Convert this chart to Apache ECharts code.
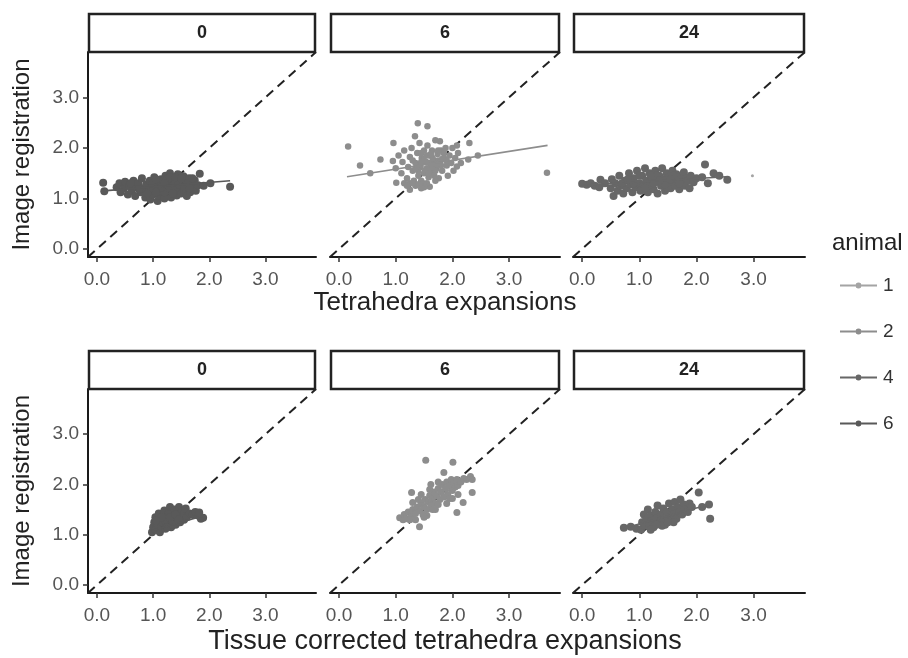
<!DOCTYPE html>
<html><head><meta charset="utf-8">
<script src="https://cdn.jsdelivr.net/npm/echarts@6/dist/echarts.min.js"></script>
<style>html,body{margin:0;padding:0;background:#fff}#c{width:908px;height:658px}</style>
</head><body><div id="c"></div>
<script>
// ---------- data ----------
const timepoints = ['0', '6', '24'];
const animals = ['1', '2', '4', '6'];
const tickValues = [0, 1, 2, 3];
const tickLabels = ['0.0', '1.0', '2.0', '3.0'];
const axisRange = [-0.16, 3.9];
const xTitles = ['Tetrahedra expansions', 'Tissue corrected tetrahedra expansions'];
const yTitle = 'Image registration';
const legendTitle = 'animal';

// top row, time 0 (animal 6)
const tetra0_a6 = [
  [0.35,1.22],[0.4,1.3],[0.42,1.12],[0.48,1.2],[0.5,1.33],[0.55,1.08],[0.58,1.25],[0.62,1.15],[0.65,1.35],[0.68,1.05],
  [0.7,1.22],[0.74,1.3],[0.78,1.12],[0.8,1.4],[0.82,1.2],[0.86,1.02],[0.88,1.28],
  [0.92,1.15],[0.94,1.35],[0.95,0.98],[0.98,1.25],[1.0,1.08],[1.02,1.42],[1.04,1.18],[1.06,1.3],[1.08,0.95],
  [1.1,1.22],[1.12,1.05],[1.14,1.38],[1.16,1.14],[1.18,1.28],[1.2,1.0],[1.22,1.45],[1.24,1.2],[1.26,1.1],[1.28,1.33],
  [1.3,1.5],[1.32,1.02],[1.34,1.24],[1.36,1.4],[1.38,1.15],[1.4,1.3],[1.42,1.06],[1.44,1.48],[1.46,1.2],[1.48,1.36],
  [1.5,1.1],[1.52,1.27],[1.54,1.44],[1.56,1.16],[1.58,1.32],[1.6,1.05],[1.62,1.24],[1.64,1.4],[1.66,1.12],[1.68,1.3],
  [1.7,1.2],[1.74,1.36],[1.76,1.15],[1.8,1.26],
  [1.0,1.3],[1.1,1.35],[1.2,1.12],[1.3,1.2],[1.4,1.2],[1.5,1.3],[1.6,1.3],[1.25,1.38],[1.35,1.1],[1.45,1.28],
  [1.15,1.22],[0.96,1.2],[1.55,1.22],[1.65,1.2],[1.05,1.12],[1.3,1.42],[1.4,1.42],[1.5,1.4],[1.2,1.3],[0.6,1.3],
  [0.75,1.18],[0.9,1.1],[1.7,1.4],[1.05,1.38],
  [0.11,1.31],[0.13,1.14],[2.37,1.23],[1.83,1.49],[1.9,1.25],[2.02,1.3]
];
// top row, time 6 (animal 2)
const tetra6_a2 = [
  [0.16,2.03],[0.37,1.65],[0.73,1.77],[0.96,2.1],[0.95,1.74],[1.39,2.49],[1.56,2.43],[1.34,2.23],[1.78,2.13],[2.08,2.05],
  [2.28,1.77],[2.08,1.63],[3.67,1.51],[1.25,1.17],[1.01,1.31],[1.6,1.23],[2.3,2.1],[2.45,1.85],[0.55,1.5],
  [1.0,1.6],[1.05,1.85],[1.1,1.5],[1.12,1.72],[1.15,1.95],[1.2,1.4],[1.22,1.62],[1.25,1.82],[1.28,2.0],[1.3,1.55],
  [1.32,1.35],[1.35,1.7],[1.38,1.9],[1.4,1.45],[1.42,2.1],[1.44,1.62],[1.46,1.8],[1.48,1.3],[1.5,1.95],[1.52,1.55],
  [1.54,1.72],[1.56,2.05],[1.58,1.42],[1.6,1.85],[1.62,1.65],[1.64,1.95],[1.66,1.5],[1.68,1.75],[1.7,2.15],[1.72,1.6],
  [1.74,1.88],[1.76,1.4],[1.78,1.7],[1.8,1.95],[1.82,1.55],[1.85,1.8],[1.88,2.0],[1.9,1.65],[1.92,1.45],[1.95,1.85],
  [1.98,1.7],[2.0,2.0],[2.02,1.55],[2.05,1.8],[2.1,1.9],[2.15,1.7],[1.45,1.35],[1.35,1.25],[1.55,1.3],[1.7,1.35],
  [1.25,1.3],[1.15,1.3],
  [1.3,1.75],[1.4,1.65],[1.45,1.9],[1.5,1.75],[1.55,1.6],[1.6,1.7],[1.65,1.8],[1.7,1.55],[1.75,1.75],[1.8,1.65],
  [1.85,1.9],[1.9,1.75],[1.5,1.5],[1.6,1.55],[1.4,1.55],[1.65,1.62],[1.55,1.85],[1.75,1.95],[1.35,1.6],[1.45,1.72],
  [1.62,1.88],[1.72,1.68],[1.82,1.78],[1.58,1.5],[1.68,1.45],[1.2,1.25],[1.3,1.3],[1.4,1.28],[1.5,1.22],[1.45,1.2]
];
// top row, time 24 (animal 4 and 1)
const tetra24_a4 = [
  [0.0,1.29],[0.08,1.27],[0.15,1.3],[0.22,1.25],[0.32,1.37],[0.3,1.22],[0.4,1.3],
  [0.5,1.2],[0.52,1.38],[0.55,1.05],[0.58,1.3],[0.62,1.15],[0.65,1.45],[0.68,1.25],[0.72,1.1],[0.75,1.35],[0.78,1.2],
  [0.82,1.5],[0.85,1.28],[0.88,1.12],[0.9,1.4],[0.94,1.22],[0.96,1.55],[1.0,1.3],[1.02,1.15],[1.05,1.45],[1.08,1.25],
  [1.1,1.6],[1.12,1.35],[1.15,1.12],[1.18,1.5],[1.2,1.28],[1.22,1.4],[1.25,1.18],[1.28,1.55],[1.3,1.33],[1.32,1.1],
  [1.35,1.45],[1.38,1.25],[1.4,1.6],[1.42,1.38],[1.45,1.15],[1.48,1.5],[1.5,1.3],[1.52,1.42],[1.55,1.2],[1.58,1.55],
  [1.6,1.35],[1.62,1.25],[1.65,1.48],[1.68,1.32],[1.7,1.18],[1.72,1.42],[1.75,1.3],[1.78,1.52],[1.8,1.25],[1.82,1.4],
  [1.85,1.35],[1.88,1.2],[1.9,1.45],[1.95,1.32],[2.0,1.4],
  [2.15,1.67],[2.3,1.5],[2.54,1.37],[2.1,1.42],[2.2,1.3],[2.4,1.45],
  [1.0,1.45],[1.3,1.45],[1.5,1.2],[1.15,1.25],[1.45,1.28],[0.9,1.3],[1.6,1.45],[1.25,1.3],[0.7,1.3],[0.8,1.38],
  [1.1,1.2],[1.35,1.35],[1.55,1.38],[1.7,1.3],[1.2,1.45]
];
const tetra24_a1 = [[2.98,1.45]];
// bottom row, time 0 (animal 6)
const tissue0_a6 = [
  [0.98,1.05],[1.0,1.15],[1.02,1.25],[1.04,1.35],[1.05,1.1],[1.08,1.2],[1.1,1.3],[1.1,1.42],[1.12,1.05],[1.14,1.15],
  [1.16,1.25],[1.18,1.38],[1.2,1.48],[1.22,1.12],[1.24,1.22],[1.26,1.32],[1.28,1.44],[1.3,1.55],[1.32,1.15],[1.34,1.27],
  [1.36,1.38],[1.38,1.5],[1.4,1.2],[1.42,1.32],[1.44,1.44],[1.46,1.55],[1.48,1.25],[1.5,1.38],[1.52,1.48],[1.55,1.3],
  [1.56,1.42],[1.58,1.52],[1.6,1.35],[1.65,1.42],[1.7,1.4],[1.75,1.45],[1.8,1.38],[1.85,1.32],[1.89,1.34],[1.82,1.44],
  [1.2,1.3],[1.3,1.35],[1.4,1.4],[1.25,1.15],[1.15,1.35],[1.35,1.2],[1.45,1.3],[1.05,1.28]
];
// bottom row, time 6 (animal 2)
const tissue6_a2 = [
  [1.07,1.34],[1.13,1.3],[1.15,1.4],[1.2,1.32],[1.22,1.45],[1.28,1.38],[1.3,1.5],[1.35,1.42],[1.38,1.55],[1.42,1.16],
  [1.42,1.48],[1.45,1.62],[1.48,1.4],[1.5,1.55],[1.52,1.7],[1.55,1.5],[1.58,1.65],[1.6,1.78],[1.62,1.58],[1.65,1.72],
  [1.68,1.85],[1.7,1.62],[1.72,1.78],[1.75,1.92],[1.78,1.7],[1.8,1.85],[1.82,2.0],[1.85,1.75],[1.85,2.24],[1.88,1.92],
  [1.9,2.05],[1.92,1.8],[1.95,1.98],[1.98,2.1],[2.0,1.88],[2.02,2.02],[2.05,1.95],[2.08,2.1],[2.1,1.98],[2.15,2.05],
  [2.2,2.12],[2.25,2.1],[2.32,2.16],[2.35,2.1],[2.35,1.84],[2.19,1.64],[2.08,1.44],[1.53,2.48],[2.01,2.44],[1.28,1.84],
  [1.3,1.64],[1.25,1.3],[1.35,1.3],[1.55,1.38],[1.65,1.5],[1.75,1.6],[1.95,1.72],
  [1.4,1.7],[1.6,1.9],[1.75,2.05],[1.5,1.35],[1.7,1.5],[1.9,1.62],[2.0,1.72],[2.1,1.8],[1.62,2.0],[1.45,1.8]
];
// bottom row, time 24 (animal 4)
const tissue24_a4 = [
  [0.73,1.14],[0.85,1.16],[0.95,1.12],[1.03,1.1],[1.05,1.25],[1.08,1.4],[1.1,1.18],[1.12,1.3],[1.15,1.5],[1.18,1.2],
  [1.2,1.38],[1.22,1.28],[1.25,1.15],[1.28,1.45],[1.3,1.32],[1.32,1.58],[1.35,1.22],[1.38,1.4],[1.4,1.3],[1.42,1.52],
  [1.45,1.2],[1.48,1.45],[1.5,1.35],[1.52,1.62],[1.55,1.28],[1.58,1.5],[1.6,1.4],[1.62,1.65],[1.65,1.32],[1.68,1.55],
  [1.7,1.45],[1.72,1.7],[1.75,1.4],[1.78,1.6],[1.8,1.5],[1.85,1.45],[1.88,1.62],[1.92,1.55],[2.04,1.84],[2.22,1.6],
  [2.24,1.32],[2.1,1.55],[1.2,1.1],[1.4,1.18],[1.6,1.25],[1.3,1.2],[1.5,1.25]
];
// fitted lines (end points)
const fitTetra0 = [[0.11,1.15],[2.37,1.35]];
const fitTetra6 = [[0.14,1.43],[3.68,2.05]];
const fitTetra24 = [[0.02,1.26],[2.52,1.43]];
const fitTissue0 = [[0.97,1.08],[1.9,1.38]];
const fitTissue6 = [[1.1,1.35],[2.35,2.15]];
const fitTissue24 = [[0.73,1.13],[2.22,1.6]];

// ---------- layout / style ----------
const animalColor = {'1':'#a4a4a4','2':'#8d8d8d','4':'#676767','6':'#595959'};
const FONT = "'Liberation Sans', Arial, Helvetica, sans-serif";
const colLeft = [88, 330, 573], colWidth = [228, 230, 232];
const rowTop = [52, 389], rowHeight = [205, 204];
const stripH = 39;

const panels = [
  {row:0, col:0, size:8, groups:[{a:'6', pts:tetra0_a6, fit:fitTetra0}]},
  {row:0, col:1, size:6.5, groups:[{a:'2', pts:tetra6_a2, fit:fitTetra6}]},
  {row:0, col:2, size:8, groups:[{a:'1', pts:tetra24_a1, fit:null, size:3},{a:'4', pts:tetra24_a4, fit:fitTetra24}]},
  {row:1, col:0, size:8, groups:[{a:'6', pts:tissue0_a6, fit:fitTissue0}]},
  {row:1, col:1, size:7, groups:[{a:'2', pts:tissue6_a2, fit:fitTissue6}]},
  {row:1, col:2, size:8, groups:[{a:'4', pts:tissue24_a4, fit:fitTissue24}]}
];

const grid = [], xAxis = [], yAxis = [], series = [], graphic = [];
panels.forEach((p, i) => {
  grid.push({left: colLeft[p.col], top: rowTop[p.row], width: colWidth[p.col], height: rowHeight[p.row], containLabel: false});
  xAxis.push({
    gridIndex: i, type: 'value', min: axisRange[0], max: axisRange[1],
    axisLine: {show: true, onZero: false, lineStyle: {color: '#1a1a1a', width: 2}},
    axisTick: {show: true, customValues: tickValues, length: 5, lineStyle: {color: '#333', width: 1.5}},
    axisLabel: {show: true, customValues: tickValues, formatter: v => tickLabels[tickValues.indexOf(v)] ?? '', margin: 13,
                fontFamily: FONT, fontSize: 19, color: '#555'},
    splitLine: {show: false},
    name: p.col === 1 ? xTitles[p.row] : '', nameLocation: 'middle', nameGap: p.row === 0 ? 33 : 35,
    nameTextStyle: {fontFamily: FONT, fontSize: p.row === 0 ? 26 : 27, color: '#222'}
  });
  const first = p.col === 0;
  yAxis.push({
    gridIndex: i, type: 'value', min: axisRange[0], max: axisRange[1],
    axisLine: {show: first, onZero: false, lineStyle: {color: '#1a1a1a', width: 2}},
    axisTick: {show: first, customValues: tickValues, length: 5, lineStyle: {color: '#333', width: 1.5}},
    axisLabel: {show: first, customValues: tickValues, formatter: v => tickLabels[tickValues.indexOf(v)] ?? '', margin: 9,
                fontFamily: FONT, fontSize: 19, color: '#555'},
    splitLine: {show: false},
    name: first ? yTitle : '', nameLocation: 'middle', nameGap: 54, nameRotate: 90,
    nameTextStyle: {fontFamily: FONT, fontSize: 24, color: '#222'}
  });
  // identity line
  series.push({
    type: 'line', xAxisIndex: i, yAxisIndex: i, silent: true, symbol: 'none', z: 1,
    data: [[axisRange[0], axisRange[0]], [axisRange[1], axisRange[1]]],
    lineStyle: {color: '#222', width: 2, type: [9, 6]}
  });
  p.groups.forEach(g => {
    series.push({
      name: g.a, type: 'scatter', xAxisIndex: i, yAxisIndex: i, z: 2, silent: true,
      symbolSize: g.size || p.size, data: g.pts, itemStyle: {color: animalColor[g.a], opacity: 1}
    });
    if (g.fit) series.push({
      name: g.a, type: 'line', xAxisIndex: i, yAxisIndex: i, z: 3, silent: true, symbol: 'none',
      data: g.fit, lineStyle: {color: animalColor[g.a], width: 1.6}, itemStyle: {color: animalColor[g.a]}
    });
  });
  // strip
  const sx = colLeft[p.col], sy = rowTop[p.row] - stripH;
  graphic.push({type: 'rect', shape: {x: sx + 1, y: sy + 1, width: colWidth[p.col] - 2, height: stripH - 1},
                style: {fill: '#fff', stroke: '#222', lineWidth: 2.5}, z: 10});
  graphic.push({type: 'text', x: sx + colWidth[p.col] / 2, y: sy + stripH / 2 + 1, z: 11,
                style: {text: timepoints[p.col], font: 'bold 18px ' + FONT, fill: '#222', textAlign: 'center', textVerticalAlign: 'middle'}});
});
graphic.push({type: 'text', x: 832, y: 243, z: 11,
              style: {text: legendTitle, font: '24px ' + FONT, fill: '#222', textAlign: 'left', textVerticalAlign: 'middle'}});

const keyIcon = 'path://M0,2H15.5V4H0Z M21.5,2H37V4H21.5Z M15.5,3a3,3 0 1,0 6,0a3,3 0 1,0 -6,0Z';

const chart = echarts.init(document.getElementById('c'), null, {renderer: 'canvas'});
chart.setOption({
  backgroundColor: '#fff',
  animation: false,
  grid, xAxis, yAxis, series, graphic,
  legend: {
    orient: 'vertical', left: 835, top: 271, itemWidth: 37, itemHeight: 6, itemGap: 27,
    selectedMode: false, symbolKeepAspect: false,
    data: animals.map(a => ({name: a, icon: keyIcon})),
    textStyle: {fontFamily: FONT, fontSize: 19, color: '#333', padding: [0, 0, 0, 1]}
  }
});
</script></body></html>
